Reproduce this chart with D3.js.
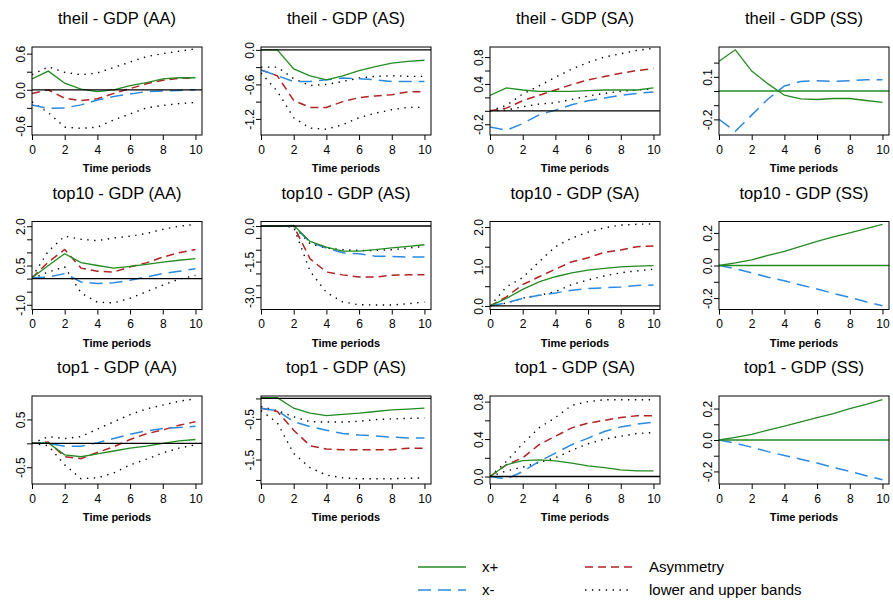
<!DOCTYPE html>
<html>
<head>
<meta charset="utf-8">
<script src="https://cdn.jsdelivr.net/npm/d3@7"></script>
<style>
body { margin: 0; background: #fff; }
svg { font-family: "Liberation Sans", Arial, sans-serif; }
</style>
</head>
<body>
<svg id="chart" width="893" height="602"></svg>
<script>
// horizon and x ticks
var horizon = [0, 1, 2, 3, 4, 5, 6, 7, 8, 9, 10];
var xTicks = [0, 2, 4, 6, 8, 10];

var titles = ["theil - GDP (AA)", "theil - GDP (AS)", "theil - GDP (SA)", "theil - GDP (SS)",
              "top10 - GDP (AA)", "top10 - GDP (AS)", "top10 - GDP (SA)", "top10 - GDP (SS)",
              "top1 - GDP (AA)", "top1 - GDP (AS)", "top1 - GDP (SA)", "top1 - GDP (SS)"];

// theil - GDP (AA)
var theilAA_pos  = [0.18, 0.31, 0.11, 0.01, -0.03, 0.0, 0.07, 0.12, 0.18, 0.2, 0.2];
var theilAA_neg  = [-0.25, -0.31, -0.3, -0.25, -0.17, -0.11, -0.07, -0.03, -0.02, -0.01, 0.0];
var theilAA_asym = [-0.06, 0.0, -0.14, -0.18, -0.15, -0.06, 0.02, 0.1, 0.16, 0.19, 0.2];
var theilAA_hi   = [0.25, 0.38, 0.29, 0.25, 0.28, 0.37, 0.46, 0.55, 0.6, 0.64, 0.68];
var theilAA_lo   = [-0.2, -0.38, -0.62, -0.64, -0.62, -0.5, -0.4, -0.3, -0.26, -0.23, -0.21];

// theil - GDP (AS)
var theilAS_pos  = [0.0, 0.0, -0.33, -0.45, -0.52, -0.45, -0.36, -0.29, -0.23, -0.2, -0.18];
var theilAS_neg  = [-0.35, -0.45, -0.55, -0.55, -0.52, -0.49, -0.5, -0.52, -0.55, -0.55, -0.55];
var theilAS_asym = [-0.35, -0.45, -0.88, -1.0, -1.0, -0.9, -0.83, -0.8, -0.78, -0.73, -0.73];
var theilAS_hi   = [-0.3, -0.3, -0.5, -0.62, -0.6, -0.55, -0.49, -0.46, -0.45, -0.46, -0.46];
var theilAS_lo   = [-0.4, -0.72, -1.18, -1.36, -1.38, -1.3, -1.18, -1.1, -1.04, -1.0, -1.0];

// theil - GDP (SA)
var theilSA_pos  = [0.23, 0.34, 0.31, 0.29, 0.29, 0.29, 0.3, 0.31, 0.31, 0.31, 0.34];
var theilSA_neg  = [-0.24, -0.29, -0.19, -0.06, 0.01, 0.09, 0.15, 0.19, 0.23, 0.26, 0.28];
var theilSA_asym = [0.0, 0.04, 0.15, 0.23, 0.31, 0.39, 0.46, 0.51, 0.56, 0.6, 0.63];
var theilSA_hi   = [0.0, 0.08, 0.25, 0.37, 0.5, 0.62, 0.72, 0.8, 0.85, 0.9, 0.93];
var theilSA_lo   = [0.0, 0.01, 0.06, 0.1, 0.12, 0.17, 0.22, 0.26, 0.29, 0.31, 0.33];

// theil - GDP (SS)
var theilSS_pos  = [0.21, 0.29, 0.14, 0.05, -0.03, -0.056, -0.06, -0.053, -0.053, -0.067, -0.08];
var theilSS_neg  = [-0.2, -0.284, -0.17, -0.056, 0.035, 0.067, 0.072, 0.067, 0.072, 0.079, 0.079];

// top10 - GDP (AA)
var top10AA_pos  = [0.03, 0.5, 0.95, 0.61, 0.5, 0.4, 0.47, 0.54, 0.63, 0.7, 0.76];
var top10AA_neg  = [0.03, 0.06, 0.19, -0.13, -0.19, -0.16, -0.06, 0.06, 0.19, 0.28, 0.38];
var top10AA_asym = [0.03, 0.63, 1.11, 0.4, 0.28, 0.25, 0.45, 0.6, 0.82, 0.99, 1.11];
var top10AA_hi   = [0.05, 1.05, 1.62, 1.5, 1.45, 1.55, 1.62, 1.72, 1.88, 2.0, 2.07];
var top10AA_lo   = [0.0, 0.25, 0.45, -0.55, -0.9, -0.93, -0.75, -0.5, -0.25, -0.02, 0.12];

// top10 - GDP (AS)
var top10AS_pos  = [0.0, 0.0, 0.03, -0.65, -0.89, -1.06, -1.06, -1.0, -0.92, -0.86, -0.79];
var top10AS_neg  = [0.0, 0.0, 0.0, -0.68, -0.93, -1.13, -1.17, -1.27, -1.28, -1.31, -1.31];
var top10AS_asym = [0.0, 0.0, 0.0, -1.38, -1.94, -2.06, -2.15, -2.15, -2.08, -2.06, -2.06];
var top10AS_hi   = [0.0, 0.0, 0.0, -0.75, -0.93, -1.0, -1.03, -1.03, -1.0, -0.93, -0.86];
var top10AS_lo   = [0.0, 0.0, -0.05, -1.9, -2.8, -3.2, -3.32, -3.33, -3.33, -3.28, -3.2];

// top10 - GDP (SA)
var top10SA_pos  = [0.0, 0.19, 0.42, 0.61, 0.74, 0.84, 0.91, 0.95, 0.99, 1.01, 1.02];
var top10SA_neg  = [0.0, 0.08, 0.19, 0.27, 0.33, 0.4, 0.44, 0.46, 0.48, 0.52, 0.53];
var top10SA_asym = [0.0, 0.23, 0.54, 0.74, 0.93, 1.12, 1.22, 1.36, 1.42, 1.5, 1.52];
var top10SA_hi   = [0.0, 0.48, 0.72, 1.12, 1.5, 1.72, 1.87, 1.98, 2.05, 2.07, 2.08];
var top10SA_lo   = [0.0, 0.07, 0.2, 0.27, 0.36, 0.54, 0.66, 0.76, 0.84, 0.89, 0.93];

// top10 - GDP (SS)
var top10SS_pos  = [0.0, 0.016, 0.035, 0.062, 0.087, 0.118, 0.148, 0.175, 0.2, 0.227, 0.252];
var top10SS_neg  = [0.0, -0.02, -0.045, -0.072, -0.093, -0.12, -0.144, -0.171, -0.196, -0.223, -0.247];

// top1 - GDP (AA)
var top1AA_pos  = [0.0, 0.01, -0.24, -0.28, -0.22, -0.16, -0.1, -0.06, 0.0, 0.05, 0.08];
var top1AA_neg  = [0.0, 0.0, -0.06, -0.06, 0.01, 0.1, 0.19, 0.26, 0.31, 0.33, 0.36];
var top1AA_asym = [0.0, 0.03, -0.28, -0.32, -0.19, -0.07, 0.08, 0.2, 0.28, 0.38, 0.45];
var top1AA_hi   = [0.0, 0.14, 0.1, 0.14, 0.3, 0.45, 0.6, 0.72, 0.8, 0.88, 0.93];
var top1AA_lo   = [0.0, -0.05, -0.45, -0.74, -0.72, -0.62, -0.45, -0.33, -0.2, -0.1, -0.03];

// top1 - GDP (AS)
var top1AS_pos  = [0.02, 0.02, -0.24, -0.36, -0.42, -0.39, -0.36, -0.32, -0.28, -0.26, -0.24];
var top1AS_neg  = [-0.24, -0.3, -0.57, -0.69, -0.78, -0.86, -0.9, -0.92, -0.95, -0.97, -0.97];
var top1AS_asym = [-0.24, -0.32, -0.78, -1.16, -1.24, -1.26, -1.26, -1.26, -1.26, -1.22, -1.22];
var top1AS_hi   = [-0.2, -0.3, -0.45, -0.57, -0.58, -0.58, -0.56, -0.52, -0.5, -0.49, -0.48];
var top1AS_lo   = [-0.3, -0.6, -1.35, -1.7, -1.88, -1.95, -1.97, -1.97, -1.97, -1.96, -1.95];

// top1 - GDP (SA)
var top1SA_pos  = [0.0, 0.125, 0.17, 0.178, 0.167, 0.142, 0.114, 0.096, 0.071, 0.06, 0.06];
var top1SA_neg  = [0.0, -0.028, 0.053, 0.16, 0.25, 0.34, 0.41, 0.48, 0.53, 0.56, 0.58];
var top1SA_asym = [0.0, 0.125, 0.2, 0.34, 0.43, 0.52, 0.57, 0.6, 0.63, 0.65, 0.65];
var top1SA_hi   = [0.0, 0.16, 0.35, 0.52, 0.63, 0.76, 0.8, 0.82, 0.82, 0.82, 0.82];
var top1SA_lo   = [0.0, 0.06, 0.1, 0.15, 0.2, 0.28, 0.35, 0.4, 0.43, 0.46, 0.47];

// top1 - GDP (SS)
var top1SS_pos  = [0.0, 0.017, 0.036, 0.063, 0.088, 0.116, 0.143, 0.168, 0.2, 0.227, 0.257];
var top1SS_neg  = [0.0, -0.021, -0.046, -0.074, -0.099, -0.122, -0.147, -0.175, -0.2, -0.227, -0.253];

// y axis ranges, tick values and the tick values that carry a label
var yDomains = [[-0.75, 0.71], [-1.48, 0.05], [-0.36, 0.95], [-0.31, 0.31],
                [-1.18, 2.18], [-3.52, 0.19], [-0.09, 2.14], [-0.27, 0.27],
                [-0.85, 0.99], [-2.1, 0.06], [-0.08, 0.86], [-0.28, 0.28]];
var yTicks = [[-0.6, -0.3, 0, 0.3, 0.6], [0, -0.3, -0.6, -0.9, -1.2], [-0.2, 0, 0.2, 0.4, 0.6, 0.8], [-0.2, -0.1, 0, 0.1, 0.2],
              [-1, -0.5, 0, 0.5, 1, 1.5, 2], [0, -0.5, -1, -1.5, -2, -2.5, -3], [0, 0.5, 1, 1.5, 2], [-0.2, -0.1, 0, 0.1, 0.2],
              [-0.5, 0, 0.5], [0, -0.5, -1, -1.5, -2], [0, 0.2, 0.4, 0.6, 0.8], [-0.2, -0.1, 0, 0.1, 0.2]];
var yLabels = [[-0.6, 0, 0.6], [0, -0.6, -1.2], [-0.2, 0.4, 0.8], [-0.2, 0.1],
               [-1, 0.5, 2], [0, -1.5, -3], [0, 1, 2], [-0.2, 0, 0.2],
               [-0.5, 0.5], [-0.5, -1.5], [0, 0.4, 0.8], [-0.2, 0, 0.2]];

var posSeries  = [theilAA_pos, theilAS_pos, theilSA_pos, theilSS_pos, top10AA_pos, top10AS_pos, top10SA_pos, top10SS_pos, top1AA_pos, top1AS_pos, top1SA_pos, top1SS_pos];
var negSeries  = [theilAA_neg, theilAS_neg, theilSA_neg, theilSS_neg, top10AA_neg, top10AS_neg, top10SA_neg, top10SS_neg, top1AA_neg, top1AS_neg, top1SA_neg, top1SS_neg];
var asymSeries = [theilAA_asym, theilAS_asym, theilSA_asym, null, top10AA_asym, top10AS_asym, top10SA_asym, null, top1AA_asym, top1AS_asym, top1SA_asym, null];
var hiSeries   = [theilAA_hi, theilAS_hi, theilSA_hi, null, top10AA_hi, top10AS_hi, top10SA_hi, null, top1AA_hi, top1AS_hi, top1SA_hi, null];
var loSeries   = [theilAA_lo, theilAS_lo, theilSA_lo, null, top10AA_lo, top10AS_lo, top10SA_lo, null, top1AA_lo, top1AS_lo, top1SA_lo, null];

var green = "#228b22", blue = "#2b8ae0", red = "#b22222";
var W = 170, H = 88;

var svg = d3.select("#chart");

function panel(k) {
    var col = k % 4, row = Math.floor(k / 4);
    var left = 32 + col * 229, top = 47 + row * 174.5;
    var ss = (col == 3);

    var g = svg.append("g")
        .attr("transform", "translate(" + left + "," + top + ")");

    var x = d3.scaleLinear().domain([0, 10.4]).range([0, W]);
    var y = d3.scaleLinear().domain(yDomains[k]).range([H, 0]);

    g.append("clipPath").attr("id", "clip" + k)
        .append("rect").attr("width", W).attr("height", H);

    var line = d3.line()
        .x(function(d, i) { return x(horizon[i]); })
        .y(function(d) { return y(d); });

    var plot = g.append("g").attr("clip-path", "url(#clip" + k + ")");

    // bands first, then asymmetry, x-, x+
    if (hiSeries[k]) {
        [hiSeries[k], loSeries[k]].forEach(function(s) {
            plot.append("path").attr("d", line(s))
                .attr("fill", "none").attr("stroke", "#000")
                .attr("stroke-width", 1.4).attr("stroke-dasharray", "1.4,5.5");
        });
        plot.append("path").attr("d", line(asymSeries[k]))
            .attr("fill", "none").attr("stroke", red)
            .attr("stroke-width", 1.5).attr("stroke-dasharray", "8,5");
    }
    plot.append("path").attr("d", line(negSeries[k]))
        .attr("fill", "none").attr("stroke", blue)
        .attr("stroke-width", 1.5).attr("stroke-dasharray", "13,7");
    plot.append("path").attr("d", line(posSeries[k]))
        .attr("fill", "none").attr("stroke", green)
        .attr("stroke-width", 1.3);

    // zero line
    plot.append("line")
        .attr("x1", 0).attr("x2", W)
        .attr("y1", y(0)).attr("y2", y(0))
        .attr("stroke", ss ? green : "#000")
        .attr("stroke-width", 1.3);

    // box
    g.append("rect")
        .attr("width", W).attr("height", H)
        .attr("fill", "none").attr("stroke", "#000").attr("stroke-width", 1);

    // x axis
    var xa = g.append("g")
        .attr("transform", "translate(0," + H + ")")
        .call(d3.axisBottom(x).tickValues(xTicks).tickSize(5).tickPadding(5).tickFormat(d3.format("d")));
    xa.select(".domain").remove();
    xa.selectAll("text").attr("font-size", 12).attr("font-family", "Liberation Sans, Arial, sans-serif").attr("fill", "#000");

    // y axis, labels turned upright like base R
    var labs = yLabels[k];
    var ya = g.append("g")
        .call(d3.axisLeft(y).tickValues(yTicks[k]).tickSize(5)
            .tickFormat(function(d) {
                var hit = labs.some(function(v) { return Math.abs(v - d) < 1e-9; });
                return hit ? d.toFixed(1) : "";
            }));
    ya.select(".domain").remove();
    ya.selectAll("text")
        .attr("x", null).attr("dy", null)
        .attr("text-anchor", "middle")
        .attr("transform", "translate(-7,0) rotate(-90)")
        .attr("font-size", 12).attr("font-family", "Liberation Sans, Arial, sans-serif").attr("fill", "#000");

    // titles
    g.append("text")
        .attr("x", W / 2).attr("y", -23)
        .attr("text-anchor", "middle")
        .attr("font-size", 16.5)
        .text(titles[k]);

    g.append("text")
        .attr("x", W / 2).attr("y", H + 37)
        .attr("text-anchor", "middle")
        .attr("font-size", 11).attr("font-weight", "bold")
        .text("Time periods");
}

for (var k = 0; k < 12; k++) panel(k);

// legend
var legendItems = [
    {label: "x+", color: green, dash: null, lx: 418, ly: 567},
    {label: "x-", color: blue, dash: "13,7", lx: 418, ly: 590},
    {label: "Asymmetry", color: red, dash: "8,5", lx: 585, ly: 567},
    {label: "lower and upper bands", color: "#000", dash: "1.4,5.5", lx: 585, ly: 590}
];
var leg = svg.append("g");
legendItems.forEach(function(d) {
    leg.append("line")
        .attr("x1", d.lx).attr("x2", d.lx + 48)
        .attr("y1", d.ly).attr("y2", d.ly)
        .attr("stroke", d.color).attr("stroke-width", 1.4)
        .attr("stroke-dasharray", d.dash);
    leg.append("text")
        .attr("x", d.lx + 64).attr("y", d.ly + 5)
        .attr("font-size", 15)
        .text(d.label);
});
</script>
</body>
</html>
